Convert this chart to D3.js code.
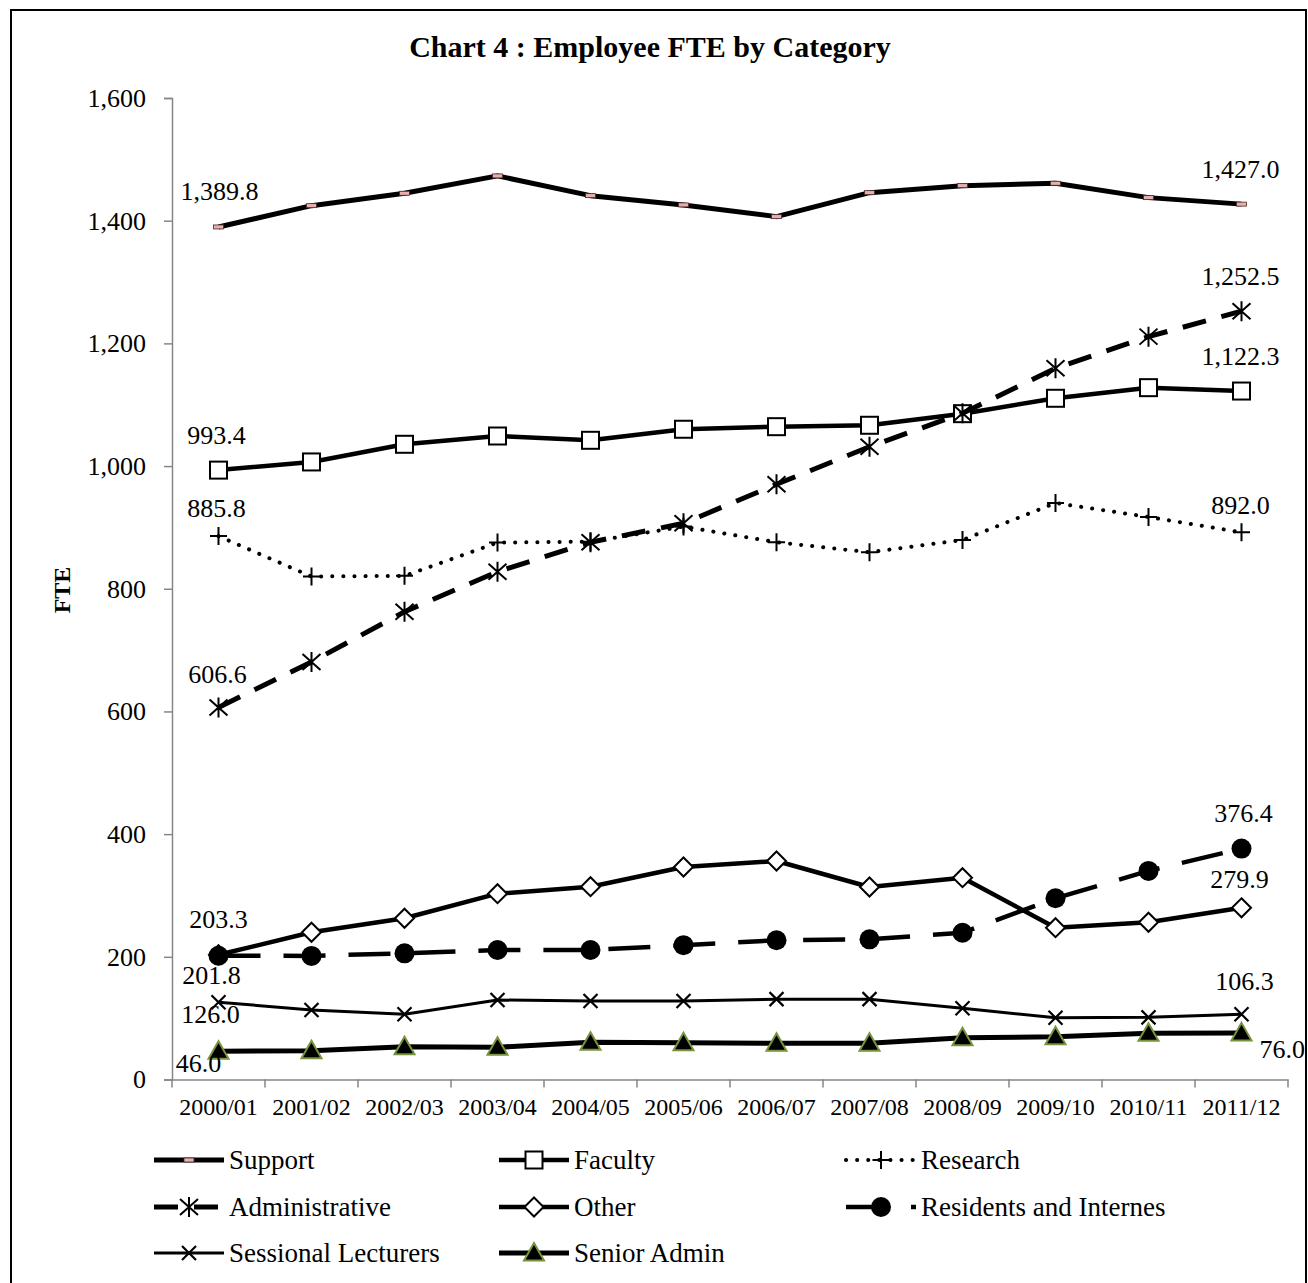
<!DOCTYPE html>
<html>
<head>
    <title>Employee FTE by Category</title>
    <script src="https://cdnjs.cloudflare.com/ajax/libs/d3/7.8.5/d3.min.js"></script>
    <style>
        body { margin: 0; background: #fff; }
        text { font-family: "Liberation Serif", "Times New Roman", serif; fill: #000; }
    </style>
</head>
<body>
    <div id="chart"></div>

    <script>
        var years = ["2000/01", "2001/02", "2002/03", "2003/04", "2004/05", "2005/06",
            "2006/07", "2007/08", "2008/09", "2009/10", "2010/11", "2011/12"];

        var support = [1389.8, 1424.5, 1444.7, 1473.0, 1440.8, 1425.7, 1406.6, 1445.7, 1457.1, 1461.0, 1437.6, 1427.0];
        var faculty = [993.4, 1006.7, 1035.5, 1049.0, 1042.0, 1060.0, 1064.2, 1066.5, 1085.4, 1110.5, 1127.8, 1122.3];
        var research = [885.8, 820.0, 821.0, 875.2, 876.8, 901.3, 875.8, 859.5, 879.5, 939.8, 917.0, 892.0];
        var administrative = [606.6, 680.6, 762.6, 827.9, 875.8, 906.7, 970.3, 1031.6, 1086.0, 1159.4, 1211.0, 1252.5];
        var other = [203.3, 240.0, 262.8, 302.9, 314.3, 346.4, 356.2, 313.8, 329.0, 247.5, 256.3, 279.9];
        var residents = [201.8, 201.5, 205.7, 211.1, 211.1, 219.0, 227.0, 228.5, 239.3, 295.4, 340.0, 376.4];
        var sessional = [126.0, 113.3, 106.3, 129.6, 128.0, 128.0, 131.0, 131.0, 116.0, 100.8, 101.3, 106.3];
        var seniorAdmin = [46.0, 47.0, 53.5, 52.5, 60.6, 60.0, 59.0, 59.0, 68.0, 69.8, 75.2, 76.0];

        var yTicks = [0, 200, 400, 600, 800, 1000, 1200, 1400, 1600];

        // line style, marker and where the first / last value labels sit
        var seriesList = [
            { name: "Support", values: support, width: 5, dash: null, marker: "dash",
                first: [1, -27, "middle"], last: [-1, -26, "middle"] },
            { name: "Faculty", values: faculty, width: 4.5, dash: null, marker: "square",
                first: [-2, -26, "middle"], last: [-1, -26, "middle"] },
            { name: "Research", values: research, width: 4, dash: "0.1,11", cap: "round", marker: "plus",
                first: [-2, -19, "middle"], last: [-1, -18, "middle"] },
            { name: "Administrative", values: administrative, width: 5, dash: "24,16", marker: "asterisk",
                first: [-1, -24, "middle"], last: [-1, -26, "middle"] },
            { name: "Other", values: other, width: 4.5, dash: null, marker: "diamond",
                first: [0, -27, "middle"], last: [-2, -20, "middle"] },
            { name: "Residents and Internes", values: residents, width: 4.5, dash: "42,23", marker: "circle",
                first: [-7, 28, "middle"], last: [2, -27, "middle"] },
            { name: "Sessional Lecturers", values: sessional, width: 3, dash: null, marker: "x",
                first: [-8, 21, "middle"], last: [3, -24, "middle"] },
            { name: "Senior Admin", values: seniorAdmin, width: 5, dash: null, marker: "triangle",
                first: [-20, 21, "middle"], last: [18, 25, "start"] }
        ];

        var width = 1308;
        var height = 1283;

        var svg = d3.select("#chart").append("svg")
            .attr("width", width)
            .attr("height", height);

        svg.append("rect")
            .attr("x", 11).attr("y", 10)
            .attr("width", 1295).attr("height", 1300)
            .attr("fill", "#fff")
            .attr("stroke", "#000")
            .attr("stroke-width", 2);

        var xScale = d3.scaleBand().domain(years).range([172, 1288]);
        var yScale = d3.scaleLinear().domain([0, 1600]).range([1079.5, 98]);

        function px(i) { return xScale(years[i]) + xScale.bandwidth() / 2; }

        svg.append("text")
            .attr("x", 650)
            .attr("y", 57)
            .attr("text-anchor", "middle")
            .style("font-size", "30px")
            .style("font-weight", "bold")
            .text("Chart 4 : Employee FTE by Category");

        svg.append("text")
            .attr("transform", "translate(70,590) rotate(-90)")
            .attr("text-anchor", "middle")
            .style("font-size", "24px")
            .style("font-weight", "bold")
            .text("FTE");

        // y axis
        var yAxis = svg.append("g")
            .attr("transform", "translate(172,0)")
            .call(d3.axisLeft(yScale).tickValues(yTicks).tickFormat(d3.format(",")).tickSize(8).tickPadding(18));
        yAxis.selectAll("line, path").attr("stroke", "#868686").attr("stroke-width", 1.5);
        yAxis.selectAll("text").style("font-size", "26px").attr("font-family", null);

        // x axis
        var xAxis = svg.append("g")
            .attr("transform", "translate(0," + yScale(0) + ")")
            .call(d3.axisBottom(xScale).tickSize(0).tickPadding(18));
        xAxis.select("path").attr("stroke", "#868686").attr("stroke-width", 1.5);
        xAxis.selectAll("text").style("font-size", "24px").attr("font-family", null);

        var bounds = years.map(function (d) { return xScale(d); }).concat([xScale.range()[1]]);
        xAxis.selectAll(".bound").data(bounds).enter().append("line")
            .attr("x1", function (d) { return d; })
            .attr("x2", function (d) { return d; })
            .attr("y1", 0).attr("y2", 8)
            .attr("stroke", "#868686").attr("stroke-width", 1.5);

        function drawMarker(g, type) {
            if (type === "dash") {
                g.append("rect").attr("x", -5).attr("y", -2).attr("width", 10).attr("height", 4)
                    .attr("fill", "#e6b0ae").attr("stroke", "#4a2a2a").attr("stroke-width", 0.8);
            } else if (type === "square") {
                g.append("rect").attr("x", -8.5).attr("y", -8.5).attr("width", 17).attr("height", 17)
                    .attr("fill", "#fff").attr("stroke", "#000").attr("stroke-width", 2);
            } else if (type === "plus") {
                g.append("path").attr("d", "M-8.5,0H8.5M0,-9V9")
                    .attr("stroke", "#000").attr("stroke-width", 2).attr("fill", "none");
            } else if (type === "asterisk") {
                g.append("path").attr("d", "M-9,-8L9,8M-9,8L9,-8M0,-10V10")
                    .attr("stroke", "#000").attr("stroke-width", 2).attr("fill", "none");
            } else if (type === "diamond") {
                g.append("path").attr("d", "M0,-9.5L9.5,0L0,9.5L-9.5,0Z")
                    .attr("fill", "#fff").attr("stroke", "#000").attr("stroke-width", 2);
            } else if (type === "circle") {
                g.append("circle").attr("r", 10).attr("fill", "#000");
            } else if (type === "x") {
                g.append("path").attr("d", "M-7,-7L7,7M-7,7L7,-7")
                    .attr("stroke", "#000").attr("stroke-width", 2.2).attr("fill", "none");
            } else if (type === "triangle") {
                g.append("path").attr("d", "M0,-10L10,7.5L-10,7.5Z")
                    .attr("fill", "#000").attr("stroke", "#77933c").attr("stroke-width", 2);
            }
        }

        var line = d3.line()
            .x(function (d, i) { return px(i); })
            .y(function (d) { return yScale(d); });

        var fmt = d3.format(",.1f");

        seriesList.forEach(function (s) {
            var g = svg.append("g");
            g.append("path")
                .datum(s.values)
                .attr("d", line)
                .attr("fill", "none")
                .attr("stroke", "#000")
                .attr("stroke-width", s.width)
                .attr("stroke-linejoin", "round")
                .attr("stroke-linecap", s.cap || "butt")
                .attr("stroke-dasharray", s.dash);

            s.values.forEach(function (v, i) {
                var m = g.append("g").attr("transform", "translate(" + px(i) + "," + yScale(v) + ")");
                drawMarker(m, s.marker);
            });
        });

        // first and last value labels
        seriesList.forEach(function (s) {
            var n = s.values.length - 1;
            [[0, s.first], [n, s.last]].forEach(function (p) {
                var i = p[0], off = p[1];
                svg.append("text")
                    .attr("x", px(i) + off[0])
                    .attr("y", yScale(s.values[i]) + off[1])
                    .attr("text-anchor", off[2])
                    .style("font-size", "26px")
                    .text(fmt(s.values[i]));
            });
        });

        // legend
        var legendCols = [154, 499, 846];
        var legendRows = [1160, 1207, 1253];
        seriesList.forEach(function (s, k) {
            var lg = svg.append("g")
                .attr("transform", "translate(" + legendCols[k % 3] + "," + legendRows[Math.floor(k / 3)] + ")");
            lg.append("line")
                .attr("x1", 0).attr("x2", 70)
                .attr("stroke", "#000")
                .attr("stroke-width", s.width)
                .attr("stroke-linecap", s.cap || "butt")
                .attr("stroke-dasharray", s.dash);
            drawMarker(lg.append("g").attr("transform", "translate(35,0)"), s.marker);
            lg.append("text")
                .attr("x", 75)
                .attr("y", 9)
                .style("font-size", "27px")
                .text(s.name);
        });
    </script>
</body>
</html>
